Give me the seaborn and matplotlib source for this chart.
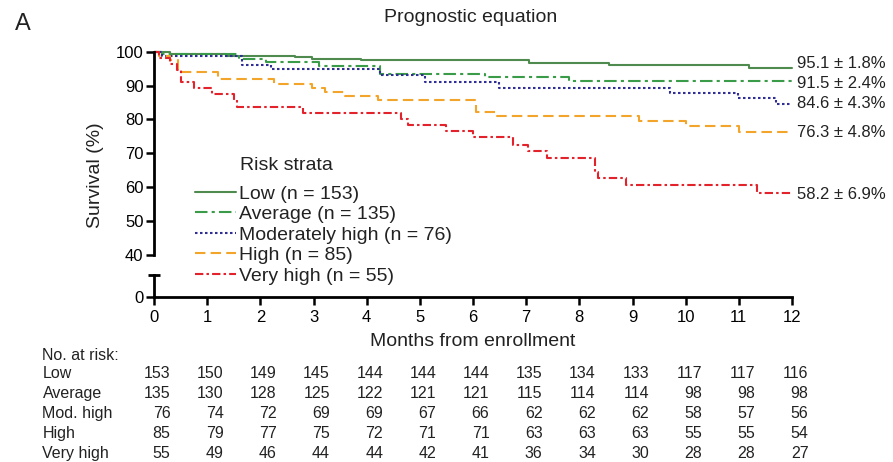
import numpy as np
import pandas as pd
import matplotlib
matplotlib.use("Agg")
import matplotlib.pyplot as plt
import matplotlib.transforms as mtransforms
import seaborn as sns

# ---------------- data ----------------
groups = ["Low", "Average", "Moderately high", "High", "Very high"]
group_n = [153, 135, 76, 85, 55]
table_labels = ["Low", "Average", "Mod. high", "High", "Very high"]
months = list(range(13))

low_t = [0, 0.3, 1.35, 2.65, 2.97, 3.9, 7.05, 8.55, 11.2]
low_s = [100, 99.4, 98.8, 98.3, 97.9, 97.5, 96.8, 96.0, 95.1]

avg_t = [0, 0.15, 1.6, 2.1, 3.1, 4.25, 6.23, 7.8]
avg_s = [100, 99.3, 97.8, 97.1, 95.7, 93.4, 92.6, 91.5]

mod_t = [0, 0.15, 1.65, 2.2, 4.25, 5.1, 6.48, 9.7, 10.98, 11.7]
mod_s = [100, 98.7, 96.1, 94.8, 93.0, 91.1, 89.4, 87.9, 86.2, 84.6]

high_t = [0, 0.1, 0.3, 0.45, 1.2, 2.25, 2.97, 3.22, 3.6, 4.22, 6.05, 6.45, 9.12, 10.0, 11.0]
high_s = [100, 98.8, 97.6, 94.1, 91.8, 90.6, 89.4, 88.2, 87.0, 85.8, 82.3, 80.9, 79.5, 78.0, 76.3]

vh_t = [0, 0.1, 0.3, 0.43, 0.5, 0.75, 1.1, 1.5, 1.57, 2.8, 4.65, 4.78, 5.5, 6.0,
        6.75, 7.04, 7.4, 8.3, 8.35, 8.87, 11.35]
vh_s = [100, 98.2, 96.4, 94.5, 91.0, 89.2, 87.4, 85.6, 83.8, 82.0, 80.2, 78.4, 76.5, 74.8,
        72.6, 70.6, 68.5, 64.6, 62.7, 60.6, 58.2]

final_pct = [95.1, 91.5, 84.6, 76.3, 58.2]
final_se = [1.8, 2.4, 4.3, 4.8, 6.9]

at_risk_low = [153, 150, 149, 145, 144, 144, 144, 135, 134, 133, 117, 117, 116]
at_risk_avg = [135, 130, 128, 125, 122, 121, 121, 115, 114, 114, 98, 98, 98]
at_risk_mod = [76, 74, 72, 69, 69, 67, 66, 62, 62, 62, 58, 57, 56]
at_risk_high = [85, 79, 77, 75, 72, 71, 71, 63, 63, 63, 55, 55, 54]
at_risk_vh = [55, 49, 46, 44, 44, 42, 41, 36, 34, 30, 28, 28, 27]

# ---------------- build table ----------------
times = [low_t, avg_t, mod_t, high_t, vh_t]
survs = [low_s, avg_s, mod_s, high_s, vh_s]
rows = []
for g, t, s in zip(groups, times, survs):
    for ti, si in zip(t + [months[-1]], s + [s[-1]]):
        rows.append({"group": g, "month": ti, "survival": si})
df = pd.DataFrame(rows)

# ---------------- style ----------------
sns.set_theme(style="ticks", rc={
    "axes.edgecolor": "black", "xtick.color": "black", "ytick.color": "black",
    "text.color": "#222222", "axes.labelcolor": "#222222",
})
plt.rcParams["font.family"] = ["Liberation Sans", "DejaVu Sans"]

palette = dict(zip(groups, ["#4f8a4f", "#3a9c48", "#2e2e96", "#f2a52a", "#e3232b"]))
dashes = dict(zip(groups, ["", (6, 2, 1.5, 2), (1.2, 1.2), (5, 2.5), (4, 1.5, 1.2, 1.5)]))

W, H = 893, 462
fig = plt.figure(figsize=(W / 100, H / 100), dpi=100)
fig.patch.set_facecolor("white")


def fx(px):
    return px / W


def fy(py):
    return 1 - py / H


x0, x1 = 154, 792
ax = fig.add_axes([fx(x0), fy(255), fx(x1) - fx(x0), fy(51.7) - fy(255)])
axb = fig.add_axes([fx(x0), fy(297), fx(x1) - fx(x0), fy(275) - fy(297)])

sns.lineplot(data=df, x="month", y="survival", hue="group", style="group",
             hue_order=groups, style_order=groups,
             palette=palette, dashes=dashes, drawstyle="steps-post",
             estimator=None, linewidth=1.5, ax=ax, clip_on=False, legend="full")

handles, labels = ax.get_legend_handles_labels()
ax.get_legend().remove()
for h in handles:
    h.set_linewidth(1.5)

# top axes
ax.set_xlim(0, 12)
ax.set_ylim(40, 100)
ax.set_yticks(range(40, 101, 10))
ax.set_xticks([])
ax.set_xlabel("")
ax.set_ylabel("")
for sp in ["top", "right", "bottom"]:
    ax.spines[sp].set_visible(False)
ax.spines["left"].set_linewidth(2.0)
ax.tick_params(axis="y", length=6, width=1.8, labelsize=12, pad=1.5)
ax.patch.set_alpha(0)

# bottom (broken) axes
axb.set_xlim(0, 12)
axb.set_ylim(0, 6.5)
axb.set_yticks([0])
axb.set_xticks(months)
for sp in ["top", "right"]:
    axb.spines[sp].set_visible(False)
axb.spines["left"].set_linewidth(2.0)
axb.spines["bottom"].set_linewidth(2.0)
axb.tick_params(axis="both", length=6, width=1.8, labelsize=12, pad=1.5)
axb.tick_params(axis="x", pad=3)
axb.plot([0], [1], marker="_", markersize=8.5, mew=2.0, color="black",
         transform=axb.transAxes, clip_on=False)
axb.patch.set_alpha(0)

# end labels
nudges = [3.5, -2.0, 0.0, 0.0, -1.0]
for v, se, g, dy in zip(final_pct, final_se, groups, nudges):
    ax.annotate(f"{v} \u00b1 {se}%", xy=(12, v), xytext=(3.5, dy),
                textcoords="offset points", va="center", ha="left",
                fontsize=12, color="#222222", annotation_clip=False)

# legend
fig.text(fx(240), fy(165), "Risk strata", fontsize=14, va="center", ha="left")
fig.legend(handles, [f"{g} (n = {n})" for g, n in zip(groups, group_n)],
           loc="upper left", bbox_to_anchor=(fx(195), fy(185)), frameon=False,
           fontsize=14, handlelength=2.1, handletextpad=0.15, labelspacing=0.15,
           borderpad=0, borderaxespad=0)

# titles / labels
fig.text(fx(471), fy(17), "Prognostic equation", fontsize=14, ha="center", va="center")
fig.text(fx(15), fy(24), "A", fontsize=17, ha="left", va="center")
fig.text(fx(95), fy(175), "Survival (%)", fontsize=14, rotation=90, ha="center", va="center")
fig.text(fx(473), fy(341), "Months from enrollment", fontsize=14, ha="center", va="center")

# number at risk table
fig.text(fx(42.5), fy(355), "No. at risk:", fontsize=11.5, ha="left", va="center")
tr = mtransforms.blended_transform_factory(axb.transData, fig.transFigure) + \
    mtransforms.ScaledTranslation(16.5 / 100, 0, fig.dpi_scale_trans)
risk_rows = [at_risk_low, at_risk_avg, at_risk_mod, at_risk_high, at_risk_vh]
for i, (lab, vals) in enumerate(zip(table_labels, risk_rows)):
    yy = fy(374 + 19.8 * i)
    fig.text(fx(42.5), yy, lab, fontsize=11.5, ha="left", va="center")
    for m, v in zip(months, vals):
        fig.text(m, yy, str(v), fontsize=11.5, ha="right", va="center", transform=tr)

fig.savefig("out.png", dpi=100, facecolor="white")
